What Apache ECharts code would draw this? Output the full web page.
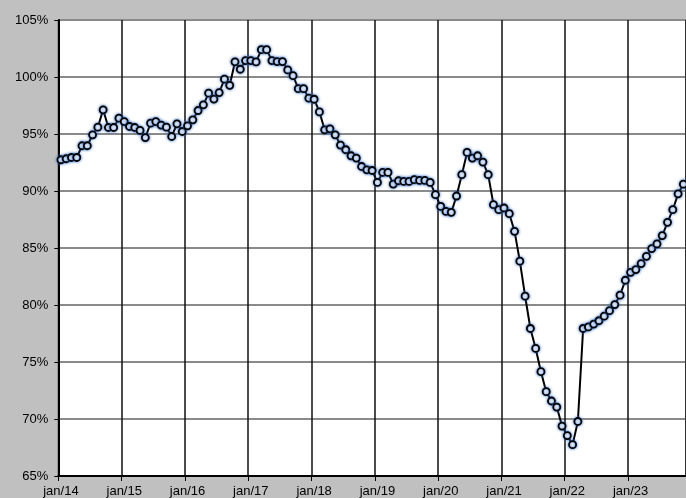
<!DOCTYPE html>
<html>
<head>
<meta charset="utf-8">
<script src="https://cdn.jsdelivr.net/npm/echarts@6/dist/echarts.min.js"></script>
<style>
html,body{margin:0;padding:0;background:#c0c0c0;}
#chart{width:686px;height:498px;}
</style>
</head>
<body>
<div id="chart"></div>
<script>
// Monthly categories Jan 2014 .. Nov 2023
var startYear = 2014;
var monthCount = 119;
var tickLabels = ['jan/14','jan/15','jan/16','jan/17','jan/18','jan/19','jan/20','jan/21','jan/22','jan/23'];
var yTicks = [65, 70, 75, 80, 85, 90, 95, 100, 105];

var values = [
  92.74, 92.83, 92.94, 92.94, 93.97, 93.97, 94.93, 95.60, 97.12, 95.57, 95.57, 96.39,
  96.09, 95.66, 95.57, 95.31, 94.69, 95.95, 96.09, 95.78, 95.60, 94.78, 95.89, 95.22,
  95.72, 96.24, 97.06, 97.56, 98.58, 98.06, 98.63, 99.81, 99.27, 101.33, 100.68, 101.44,
  101.44, 101.32, 102.40, 102.40, 101.44, 101.35, 101.35, 100.62, 100.12, 98.98, 98.98, 98.14,
  98.05, 96.94, 95.37, 95.45, 94.93, 94.03, 93.62, 93.09, 92.89, 92.15, 91.86, 91.80,
  90.75, 91.63, 91.63, 90.61, 90.90, 90.84, 90.84, 90.99, 90.93, 90.93, 90.75, 89.68,
  88.65, 88.21, 88.13, 89.56, 91.43, 93.38, 92.89, 93.09, 92.54, 91.43, 88.80, 88.36,
  88.51, 88.01, 86.46, 83.84, 80.77, 77.94, 76.19, 74.15, 72.40, 71.58, 71.05, 69.38,
  68.55, 67.75, 69.78, 77.94, 78.08, 78.33, 78.62, 79.02, 79.50, 80.04, 80.86, 82.17,
  82.87, 83.11, 83.63, 84.27, 84.95, 85.36, 86.09, 87.25, 88.36, 89.75, 90.60
];

var categories = [];
for (var i = 0; i < monthCount; i++) {
  var y = startYear + Math.floor(i / 12);
  var m = (i % 12) + 1;
  categories.push(y + '-' + (m < 10 ? '0' + m : m));
}

var chart = echarts.init(document.getElementById('chart'), null, {renderer: 'canvas'});
var isYearStart = function (idx) { return idx % 12 === 0; };

chart.setOption({
  animation: false,
  backgroundColor: '#c0c0c0',
  grid: {
    left: 58.3, top: 20, right: -4.2, bottom: 21.5,
    show: true, backgroundColor: '#ffffff', borderColor: '#000', borderWidth: 1
  },
  xAxis: {
    type: 'category',
    data: categories,
    boundaryGap: true,
    axisLine: {lineStyle: {color: '#000', width: 2}},
    axisTick: {show: true, interval: isYearStart, length: 5, lineStyle: {color: '#000', width: 1}},
    axisLabel: {
      interval: isYearStart,
      margin: 9,
      color: '#000',
      fontFamily: 'Liberation Sans, Arial, sans-serif',
      fontSize: 13,
      formatter: function (val, idx) { return tickLabels[Math.floor(idx / 12)] || ''; }
    },
    splitLine: {show: true, interval: isYearStart, lineStyle: {color: '#111', width: 1.5}}
  },
  yAxis: {
    type: 'value',
    min: yTicks[0],
    max: yTicks[yTicks.length - 1],
    interval: 5,
    axisLine: {show: true, lineStyle: {color: '#000', width: 2}},
    axisTick: {show: true, length: 4, lineStyle: {color: '#000', width: 1}},
    axisLabel: {
      margin: 10,
      color: '#000',
      fontFamily: 'Liberation Sans, Arial, sans-serif',
      fontSize: 13,
      formatter: '{value}%'
    },
    splitLine: {show: true, lineStyle: {color: '#8a8a8a', width: 2}}
  },
  series: [{
    type: 'line',
    data: values,
    symbol: 'circle',
    symbolSize: 7,
    showAllSymbol: true,
    lineStyle: {color: '#000', width: 2},
    itemStyle: {
      color: '#ffffff',
      borderColor: '#000',
      borderWidth: 1.8,
      shadowColor: 'rgba(50,110,200,0.95)',
      shadowBlur: 3
    }
  }]
});
</script>
</body>
</html>
